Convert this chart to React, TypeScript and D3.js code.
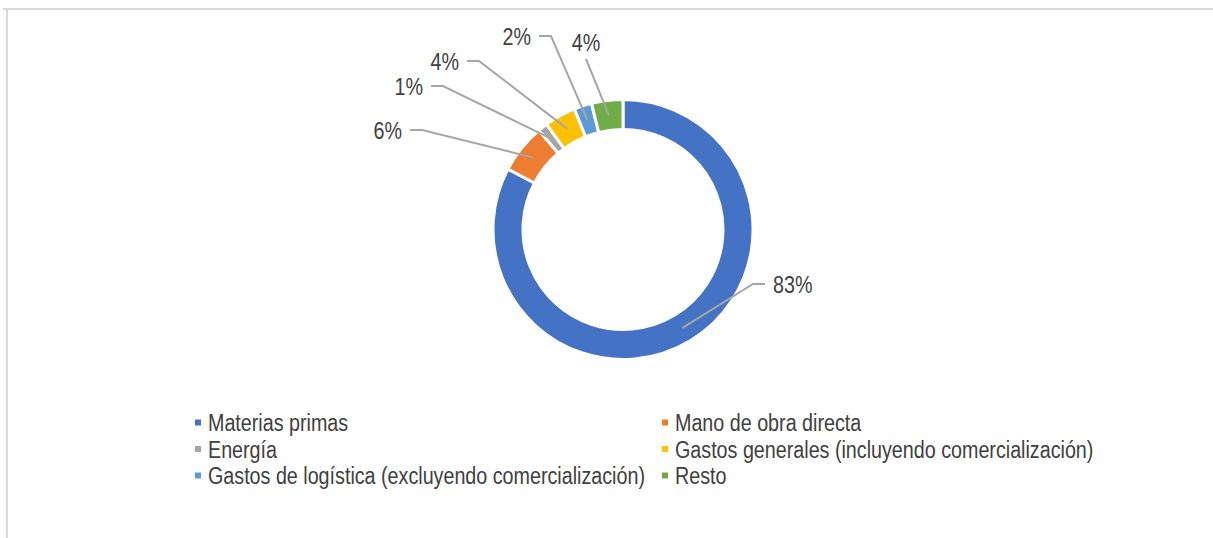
import React from "react";
import * as d3 from "d3";

// cost breakdown (share of total, %)
const categories = [
  "Materias primas",
  "Mano de obra directa",
  "Energía",
  "Gastos generales (incluyendo comercialización)",
  "Gastos de logística (excluyendo comercialización)",
  "Resto",
];
const shares = [82.7, 6.1, 1.2, 3.9, 2.2, 3.9];
const colors = ["#4472C4", "#ED7D31", "#A5A5A5", "#FFC000", "#5B9BD5", "#70AD47"];

// where Excel left each label (elbow of the leader line, relative to donut centre)
const labelElbows: [number, number, string][] = [
  [130, 54.5, "right"],
  [-201, -99.5, "left"],
  [-180, -143.5, "left"],
  [-144, -168.5, "left"],
  [-72, -193.5, "left"],
  [-37, -170.5, "above"],
];

const W = 1213;
const H = 538;
const cx = 623;
const cy = 229.5;
const outerR = 130;
const innerR = 100;
const textColor = "#404040";
const lineColor = "#A6A6A6";
const FS = 24.5;
const SX = 0.805; // narrow font look

function App() {
  const pie = d3.pie<number>().sort(null).value((d) => d);
  const arcs = pie(shares);
  const arc = d3.arc<d3.PieArcDatum<number>>().innerRadius(innerR).outerRadius(outerR);
  const mid = d3.arc<d3.PieArcDatum<number>>().innerRadius(115).outerRadius(115);

  const legendCols = [195, 662];
  const legendRow = d3.scaleLinear().domain([0, 1]).range([422.5, 449]);

  return (
    <svg width={W} height={H} style={{ position: "absolute", left: 0, top: 0 }} fontFamily="'Liberation Sans', Arial, sans-serif">
      <rect x={0} y={0} width={W} height={H} fill="#fff" />
      <line x1={3} x2={W} y1={9} y2={9} stroke="#D9D9D9" strokeWidth={2} />
      <line x1={7} x2={7} y1={9} y2={H} stroke="#D9D9D9" strokeWidth={2} />

      <g transform={`translate(${cx},${cy})`}>
        {arcs.map((a, i) => (
          <path key={i} d={arc(a) || ""} fill={colors[i]} stroke="#fff" strokeWidth={3} />
        ))}
        {arcs.map((a, i) => {
          const [px, py] = mid.centroid(a);
          const [ex, ey, side] = labelElbows[i];
          const label = `${Math.round(shares[i])}%`;
          if (side === "above") {
            return (
              <g key={i}>
                <polyline points={`${px},${py} ${ex},${ey}`} fill="none" stroke={lineColor} strokeWidth={2} />
                <text transform={`translate(${ex},${ey - 8}) scale(${SX},1)`} textAnchor="middle" fontSize={FS} fill={textColor}>
                  {label}
                </text>
              </g>
            );
          }
          const dir = side === "left" ? -1 : 1;
          const hx = ex + dir * 12;
          const tx = hx + dir * 8;
          return (
            <g key={i}>
              <polyline points={`${px},${py} ${ex},${ey} ${hx},${ey}`} fill="none" stroke={lineColor} strokeWidth={2} />
              <text
                transform={`translate(${tx},${ey + 9}) scale(${SX},1)`}
                textAnchor={side === "left" ? "end" : "start"}
                fontSize={FS}
                fill={textColor}
              >
                {label}
              </text>
            </g>
          );
        })}
      </g>

      {categories.map((c, i) => {
        const x = legendCols[i % 2];
        const y = legendRow(Math.floor(i / 2));
        return (
          <g key={c}>
            <rect x={x} y={y - 3} width={6} height={6} fill={colors[i]} />
            <text transform={`translate(${x + 13},${y + 8.5}) scale(${SX},1)`} fontSize={FS} fill={textColor}>
              {c}
            </text>
          </g>
        );
      })}
    </svg>
  );
}

export default App;
